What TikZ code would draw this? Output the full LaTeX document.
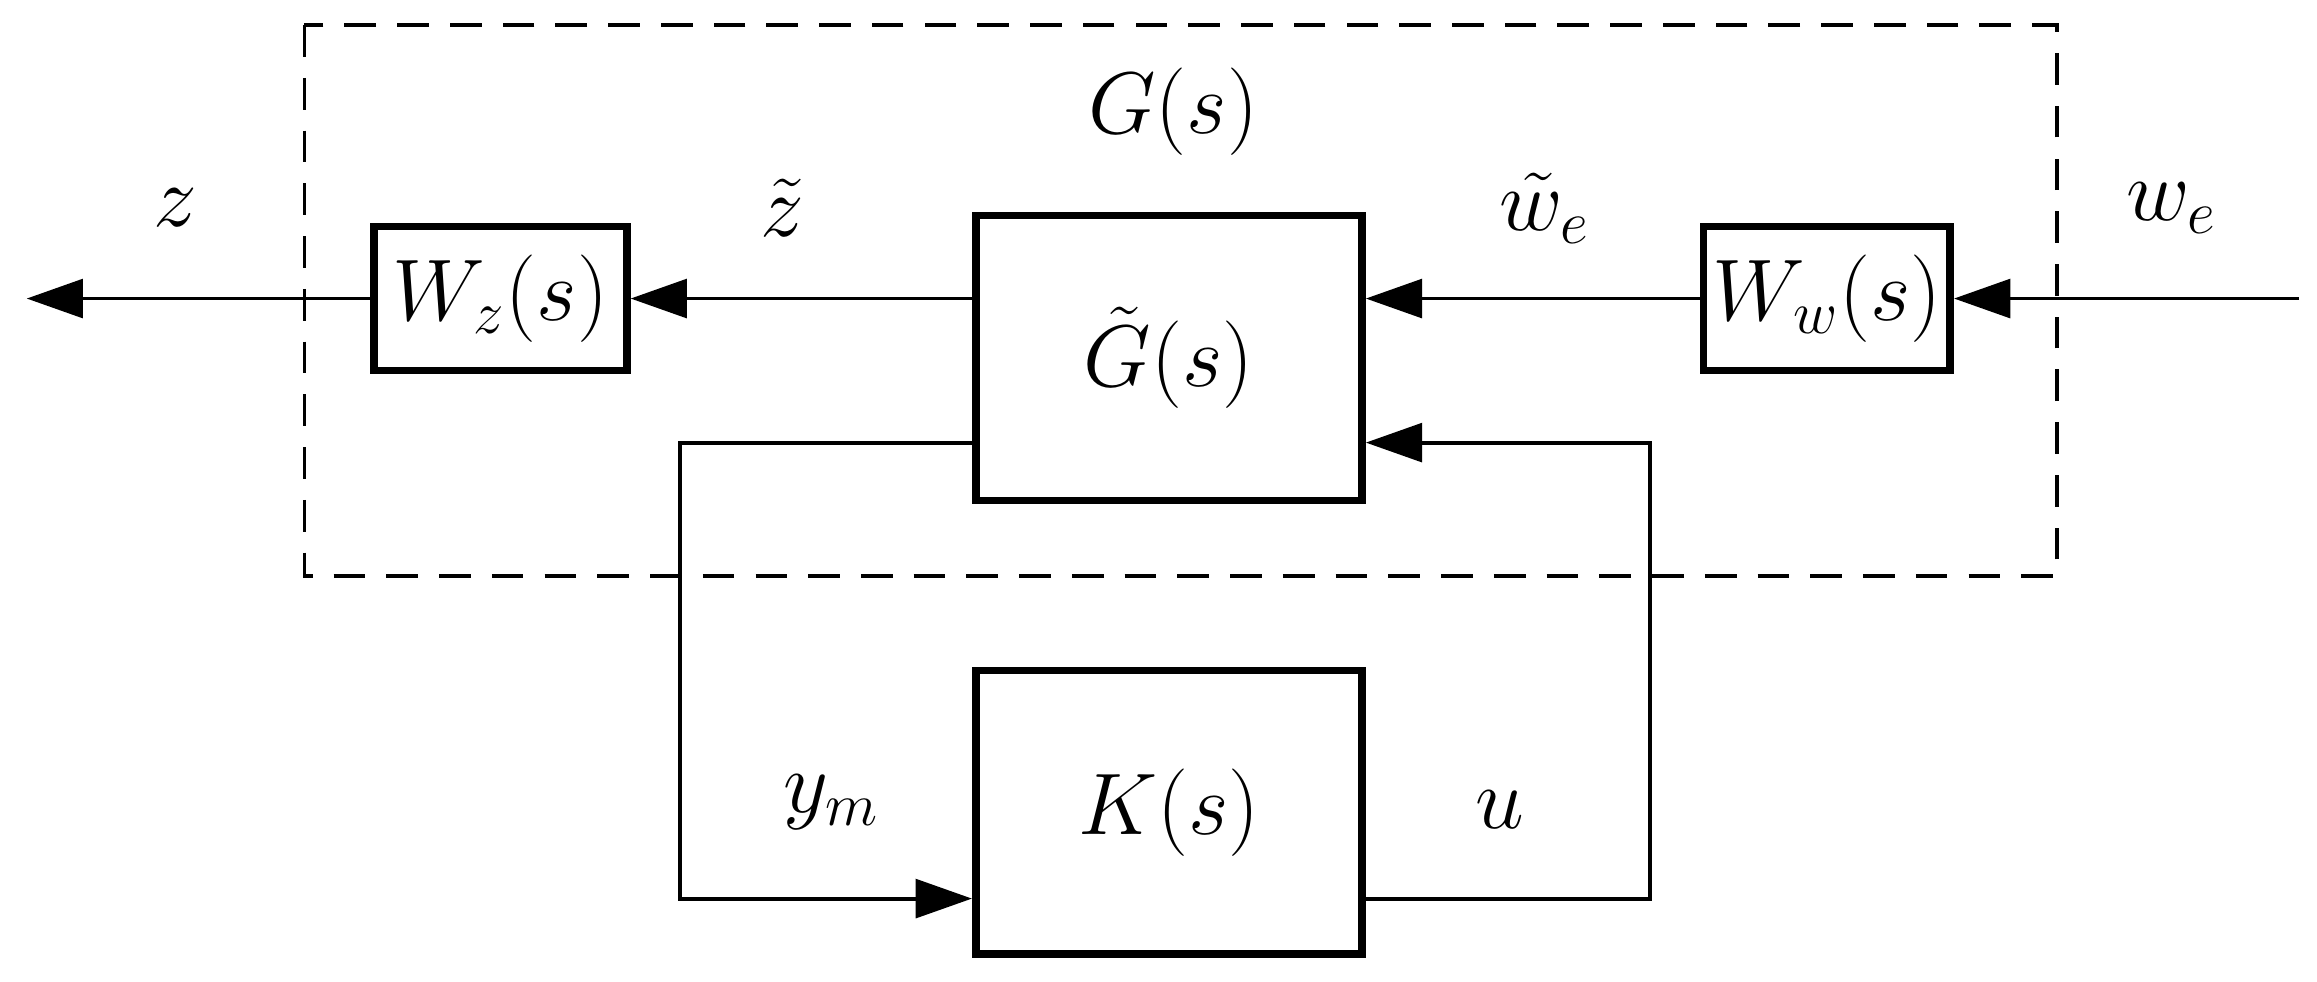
\documentclass[tikz,border=0pt]{standalone}
\usetikzlibrary{arrows.meta}
\begin{document}
\begin{tikzpicture}[x=0.01485cm,y=-0.01485cm,
  blk/.style={draw,line width=2.2pt,inner sep=0pt},
  ln/.style={line width=1.1pt},
  arr/.style={ln,-{Triangle[length=16pt,width=11pt]}},
  big/.style={font=\fontsize{34}{36}\selectfont},
  mid/.style={font=\fontsize{26}{28}\selectfont},
  lab/.style={font=\fontsize{27}{29}\selectfont}]
\useasboundingbox (0,0) rectangle (1560,661);
\draw[ln,dash pattern=on 9pt off 6pt] (205,17) rectangle (1385,388);
\node[big] (G) at (790,75) {$G(s)$};
\node[blk,minimum width=170*0.01485cm,minimum height=97*0.01485cm,mid] (Wz) at (337,201) {$W_z(s)$};
\node[blk,minimum width=260*0.01485cm,minimum height=192*0.01485cm,big] (Gt) at (787,241) {$\tilde G(s)$};
\node[blk,minimum width=166*0.01485cm,minimum height=97*0.01485cm,mid] (Ww) at (1230,201) {$W_w(s)$};
\node[blk,minimum width=260*0.01485cm,minimum height=191*0.01485cm,big] (K) at (787,547) {$K(s)$};
\coordinate (zout) at (18,201);
\coordinate (win) at (1548,201);
\draw[arr] (win) -- (Ww.east);
\draw[arr] (Ww.west) -- (Gt.east |- Ww.west);
\draw[arr] (Gt.west |- Wz.east) -- (Wz.east);
\draw[arr] (Wz.west) -- (zout);
\draw[arr] (Gt.west |- 0,298) -- (458,298) -- (458,605) -- (K.west |- 0,605);
\draw[arr] (K.east |- 0,605) -- (1111,605) -- (1111,298) -- (Gt.east |- 0,298);
\node[lab] (lz) at (118,140) {$z$};
\node[lab] (lzt) at (527,140) {$\tilde z$};
\node[lab] (lwt) at (1040,140) {$\tilde w_e$};
\node[lab] (lw) at (1462,140) {$w_e$};
\node[lab] (lym) at (560,540) {$y_m$};
\node[lab] (lu) at (1010,545) {$u$};
\end{tikzpicture}
\end{document}
